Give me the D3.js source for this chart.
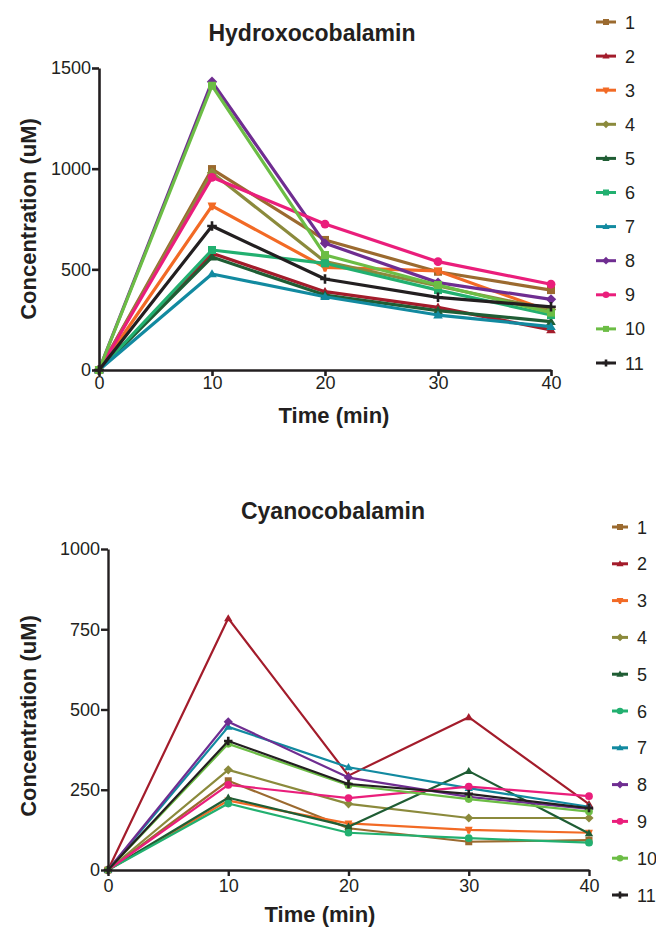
<!DOCTYPE html>
<html><head><meta charset="utf-8">
<script src="https://cdn.jsdelivr.net/npm/d3@7"></script>
<style>body{margin:0;background:#fff}svg{display:block}text{font-family:"Liberation Sans",Arial,sans-serif;fill:#231f20}</style>
</head><body>
<script>
const times = [0, 10, 20, 30, 40];
const seriesNames = ["1","2","3","4","5","6","7","8","9","10","11"];
const colors = ["#9b6a2f","#a31c2b","#f26a25","#8b8a3c","#1f5d34","#22b070","#128aa0","#6f2d91","#ea1e7b","#6cbd45","#231f20"];
const markers = ["square","triangle","tee","diamond","triangle","square","triangle","diamond","circle","square","cross"];
const markersCyano = ["square","triangle","tee","diamond","triangle","circle","triangle","diamond","circle","circle","cross"];

const hydroxo1 = [0, 998, 646, 488, 397];
const hydroxo2 = [0, 580, 389, 311, 199];
const hydroxo3 = [0, 815, 510, 492, 290];
const hydroxo4 = [0, 980, 538, 417, 300];
const hydroxo5 = [0, 561, 372, 295, 240];
const hydroxo6 = [0, 596, 530, 397, 273];
const hydroxo7 = [0, 477, 364, 273, 215];
const hydroxo8 = [0, 1432, 629, 434, 351];
const hydroxo9 = [0, 957, 725, 538, 426];
const hydroxo10 = [0, 1412, 571, 422, 285];
const hydroxo11 = [0, 715, 452, 361, 314];

const cyano1 = [0, 278, 130, 88, 93];
const cyano2 = [0, 784, 294, 476, 205];
const cyano3 = [0, 216, 145, 125, 116];
const cyano4 = [0, 312, 206, 162, 162];
const cyano5 = [0, 225, 135, 308, 114];
const cyano6 = [0, 207, 116, 99, 85];
const cyano7 = [0, 446, 320, 255, 197];
const cyano8 = [0, 462, 288, 228, 190];
const cyano9 = [0, 265, 224, 260, 230];
const cyano10 = [0, 393, 264, 221, 182];
const cyano11 = [0, 402, 268, 237, 193];

const yTicksTop = [0, 500, 1000, 1500];
const yTicksBottom = [0, 250, 500, 750, 1000];
const xTicks = [0, 10, 20, 30, 40];

const hydroxo = [hydroxo1,hydroxo2,hydroxo3,hydroxo4,hydroxo5,hydroxo6,hydroxo7,hydroxo8,hydroxo9,hydroxo10,hydroxo11];
const cyano = [cyano1,cyano2,cyano3,cyano4,cyano5,cyano6,cyano7,cyano8,cyano9,cyano10,cyano11];

const svg = d3.select("body").append("svg").attr("width", 656).attr("height", 928);

function drawMarker(g, type, x, y, s, color) {
  if (type === "circle") {
    g.append("circle").attr("cx", x).attr("cy", y).attr("r", s*0.55).attr("fill", color);
  } else if (type === "square") {
    g.append("rect").attr("x", x - s/2).attr("y", y - s/2).attr("width", s).attr("height", s).attr("fill", color);
  } else if (type === "diamond") {
    const r = s*0.65;
    g.append("path").attr("d", `M${x},${y-r}L${x+r},${y}L${x},${y+r}L${x-r},${y}Z`).attr("fill", color);
  } else if (type === "triangle") {
    const r = s*0.6;
    g.append("path").attr("d", `M${x},${y-r}L${x+r},${y+r*0.7}L${x-r},${y+r*0.7}Z`).attr("fill", color);
  } else if (type === "tee") {
    const r = s*0.55;
    g.append("path").attr("d", `M${x-r},${y-r*0.8}L${x+r},${y-r*0.8}L${x+r*0.3},${y+r}L${x-r*0.3},${y+r}Z`).attr("fill", color);
  } else if (type === "cross") {
    const r = s*0.6;
    g.append("path").attr("d", `M${x-r},${y}L${x+r},${y}M${x},${y-r}L${x},${y+r}`).attr("stroke", color).attr("stroke-width", 2.6);
  }
}

function chart(cfg) {
  const x = d3.scaleLinear().domain([0, 40]).range([cfg.x0, cfg.x1]);
  const y = d3.scaleLinear().domain([0, cfg.ymax]).range([cfg.y0, cfg.y1]);
  const g = svg.append("g");

  const line = d3.line().x((d, i) => x(times[i])).y(d => y(d));
  cfg.data.forEach((vals, k) => {
    g.append("path").attr("d", line(vals)).attr("fill", "none")
      .attr("stroke", colors[k]).attr("stroke-width", cfg.lw).attr("stroke-linejoin", "round");
    vals.forEach((v, i) => drawMarker(g, cfg.markers[k], x(times[i]), y(v), cfg.ms, colors[k]));
  });

  const ax = g.append("g").attr("transform", `translate(0,${cfg.y0})`)
    .call(d3.axisBottom(x).tickValues(xTicks).tickFormat(d3.format("d")).tickSize(6).tickSizeOuter(0).tickPadding(cfg.xpad));
  const ay = g.append("g").attr("transform", `translate(${cfg.x0},0)`)
    .call(d3.axisLeft(y).tickValues(cfg.yticks).tickFormat(d3.format("d")).tickSize(7).tickSizeOuter(0).tickPadding(1));
  [ax, ay].forEach(a => {
    a.select(".domain").attr("stroke", "#231f20").attr("stroke-width", cfg.aw);
    a.selectAll(".tick line").attr("stroke", "#231f20").attr("stroke-width", cfg.aw);
    a.selectAll(".tick text").attr("font-size", 18).attr("fill", "#231f20")
      .style("font-family", '"Liberation Sans",Arial,sans-serif');
  });

  svg.append("text").attr("x", cfg.titleX).attr("y", cfg.titleY).attr("text-anchor", "middle")
    .attr("font-size", 23).attr("font-weight", "bold").text(cfg.title);
  svg.append("text").attr("x", cfg.xlabX).attr("y", cfg.xlabY).attr("text-anchor", "middle")
    .attr("font-size", 22).attr("font-weight", "bold").text("Time (min)");
  svg.append("text").attr("transform", `translate(${cfg.ylabX},${cfg.ylabY}) rotate(-90)`)
    .attr("text-anchor", "middle").attr("font-size", 22).attr("font-weight", "bold").text("Concentration (uM)");

  const lg = svg.append("g");
  seriesNames.forEach((n, k) => {
    const ly = cfg.legY0 + k * cfg.legDy;
    lg.append("line").attr("x1", cfg.legX).attr("x2", cfg.legX + cfg.legW).attr("y1", ly).attr("y2", ly)
      .attr("stroke", colors[k]).attr("stroke-width", 3);
    drawMarker(lg, cfg.markers[k], cfg.legX + cfg.legW/2, ly, cfg.legMs, colors[k]);
    lg.append("text").attr("x", cfg.legX + cfg.legW + 9).attr("y", ly + 6.5).attr("font-size", 18).text(n);
  });
}

chart({data: hydroxo, markers: markers, title: "Hydroxocobalamin", ymax: 1500, yticks: yTicksTop,
  x0: 99, x1: 551, y0: 370, y1: 68, lw: 3.2, ms: 8, aw: 2.6, xpad: 0,
  titleX: 312, titleY: 41, xlabX: 334, xlabY: 423, ylabX: 36, ylabY: 219,
  legX: 596, legW: 20, legY0: 22, legDy: 34.1, legMs: 6});

chart({data: cyano, markers: markersCyano, title: "Cyanocobalamin", ymax: 1000, yticks: yTicksBottom,
  x0: 108, x1: 589, y0: 870, y1: 549, lw: 2.2, ms: 7, aw: 2.4, xpad: 3,
  titleX: 333, titleY: 519, xlabX: 320, xlabY: 922, ylabX: 36, ylabY: 716,
  legX: 612, legW: 16, legY0: 527, legDy: 36.8, legMs: 6});
</script>
</body></html>
